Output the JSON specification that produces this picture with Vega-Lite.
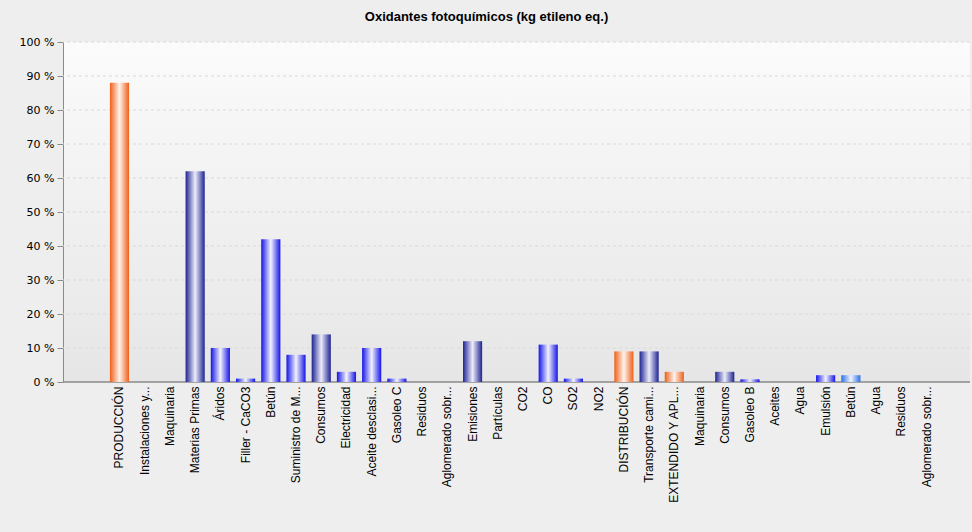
{
  "$schema": "https://vega.github.io/schema/vega-lite/v6.json",
  "width": 907,
  "height": 340,
  "autosize": {"type": "none"},
  "padding": {"left": 63, "top": 42, "right": 2, "bottom": 150},
  "background": "#eeeeee",
  "title": {
    "text": "Oxidantes fotoquímicos (kg etileno eq.)",
    "font": "Liberation Sans",
    "fontSize": 13,
    "fontWeight": "bold",
    "color": "#000000",
    "anchor": "middle",
    "dx": -30,
    "offset": 12
  },
  "config": {
    "view": {
      "stroke": null,
      "fill": {
        "gradient": "linear",
        "x1": 0, "x2": 0, "y1": 0, "y2": 1,
        "stops": [
          {"offset": 0, "color": "#fbfbfb"},
          {"offset": 1, "color": "#e6e6e6"}
        ]
      }
    },
    "axis": {"labelColor": "#000000"}
  },
  "datasets": {
    "rejilla": [
      {"g": 0}, {"g": 10}, {"g": 20}, {"g": 30}, {"g": 40}, {"g": 50},
      {"g": 60}, {"g": 70}, {"g": 80}, {"g": 90}, {"g": 100}
    ],
    "barras": [
      {"id": "01 PRODUCCIÓN", "valor": 88, "nivel": 1},
      {"id": "02 Instalaciones y...", "valor": 0, "nivel": 2},
      {"id": "03 Maquinaria", "valor": 0, "nivel": 2},
      {"id": "04 Materias Primas", "valor": 62, "nivel": 2},
      {"id": "05 Áridos", "valor": 10, "nivel": 3},
      {"id": "06 Filler - CaCO3", "valor": 1, "nivel": 3},
      {"id": "07 Betún", "valor": 42, "nivel": 3},
      {"id": "08 Suministro de M...", "valor": 8, "nivel": 3},
      {"id": "09 Consumos", "valor": 14, "nivel": 2},
      {"id": "10 Electricidad", "valor": 3, "nivel": 3},
      {"id": "11 Aceite desclasi...", "valor": 10, "nivel": 3},
      {"id": "12 Gasoleo C", "valor": 1, "nivel": 3},
      {"id": "13 Residuos", "valor": 0, "nivel": 2},
      {"id": "14 Aglomerado sobr...", "valor": 0, "nivel": 2},
      {"id": "15 Emisiones", "valor": 12, "nivel": 2},
      {"id": "16 Partículas", "valor": 0, "nivel": 3},
      {"id": "17 CO2", "valor": 0, "nivel": 3},
      {"id": "18 CO", "valor": 11, "nivel": 3},
      {"id": "19 SO2", "valor": 1, "nivel": 3},
      {"id": "20 NO2", "valor": 0, "nivel": 3},
      {"id": "21 DISTRIBUCIÓN", "valor": 9, "nivel": 1},
      {"id": "22 Transporte cami...", "valor": 9, "nivel": 2},
      {"id": "23 EXTENDIDO Y APL...", "valor": 3, "nivel": 1},
      {"id": "24 Maquinaria", "valor": 0, "nivel": 2},
      {"id": "25 Consumos", "valor": 3, "nivel": 2},
      {"id": "26 Gasoleo B", "valor": 0.8, "nivel": 3},
      {"id": "27 Aceites", "valor": 0, "nivel": 3},
      {"id": "28 Agua", "valor": 0, "nivel": 3},
      {"id": "29 Emulsión", "valor": 2, "nivel": 3},
      {"id": "30 Betún", "valor": 2, "nivel": 4},
      {"id": "31 Agua", "valor": 0, "nivel": 4},
      {"id": "32 Residuos", "valor": 0, "nivel": 2},
      {"id": "33 Aglomerado sobr...", "valor": 0, "nivel": 2}
    ]
  },
  "layer": [
    {
      "data": {"name": "rejilla"},
      "mark": {"type": "rule"},
      "encoding": {
        "y": {
          "field": "g",
          "type": "quantitative",
          "scale": {"domain": [0, 100], "nice": false},
          "axis": {
            "title": null,
            "values": [0, 10, 20, 30, 40, 50, 60, 70, 80, 90, 100],
            "labelExpr": "datum.value + ' %'",
            "labelFont": "DejaVu Sans",
            "labelFontSize": 11,
            "labelPadding": 3,
            "labelOverlap": false,
            "tickSize": 6,
            "tickColor": "#8a8a8a",
            "domainColor": "#8a8a8a",
            "grid": false
          }
        },
        "color": {"condition": {"test": "datum.g === 0", "value": "#8a8a8a"}, "value": "#d9d9d9"},
        "strokeDash": {"condition": {"test": "datum.g === 0", "value": [1, 0]}, "value": [3, 3]},
        "strokeWidth": {"condition": {"test": "datum.g === 0", "value": 1.5}, "value": 1}
      }
    },
    {
      "data": {"name": "barras"},
      "mark": {"type": "bar"},
      "encoding": {
        "x": {
          "field": "id",
          "type": "nominal",
          "sort": null,
          "scale": {"range": [46.9, 873.1], "paddingInner": 0.24, "paddingOuter": 0},
          "axis": {
            "title": null,
            "labelAngle": 270,
            "labelFont": "Liberation Sans",
            "labelFontSize": 12,
            "labelPadding": 4,
            "labelExpr": "substring(datum.value, 3)",
            "ticks": false,
            "domain": false,
            "grid": false,
            "labelOverlap": false
          }
        },
        "y": {
          "field": "valor",
          "type": "quantitative",
          "scale": {"domain": [0, 100], "nice": false},
          "axis": {
            "title": null,
            "values": [0, 10, 20, 30, 40, 50, 60, 70, 80, 90, 100],
            "labelExpr": "datum.value + ' %'",
            "labelFont": "DejaVu Sans",
            "labelFontSize": 11,
            "labelPadding": 3,
            "labelOverlap": false,
            "tickSize": 6,
            "tickColor": "#8a8a8a",
            "domainColor": "#8a8a8a",
            "grid": false
          }
        },
        "color": {
          "condition": [
            {
              "test": "datum.nivel == 1",
              "value": {
                "gradient": "linear", "x1": 0, "x2": 1, "y1": 0, "y2": 0,
                "stops": [
                  {"offset": 0, "color": "#ee5f18"},
                  {"offset": 0.5, "color": "#fff3ec"},
                  {"offset": 1, "color": "#ee5f18"}
                ]
              }
            },
            {
              "test": "datum.nivel == 2",
              "value": {
                "gradient": "linear", "x1": 0, "x2": 1, "y1": 0, "y2": 0,
                "stops": [
                  {"offset": 0, "color": "#1e2390"},
                  {"offset": 0.5, "color": "#ececfb"},
                  {"offset": 1, "color": "#1e2390"}
                ]
              }
            },
            {
              "test": "datum.nivel == 3",
              "value": {
                "gradient": "linear", "x1": 0, "x2": 1, "y1": 0, "y2": 0,
                "stops": [
                  {"offset": 0, "color": "#1414e6"},
                  {"offset": 0.5, "color": "#f2f2ff"},
                  {"offset": 1, "color": "#1414e6"}
                ]
              }
            }
          ],
          "value": {
            "gradient": "linear", "x1": 0, "x2": 1, "y1": 0, "y2": 0,
            "stops": [
              {"offset": 0, "color": "#2a6fe6"},
              {"offset": 0.5, "color": "#eef4ff"},
              {"offset": 1, "color": "#2a6fe6"}
            ]
          }
        }
      }
    }
  ]
}
